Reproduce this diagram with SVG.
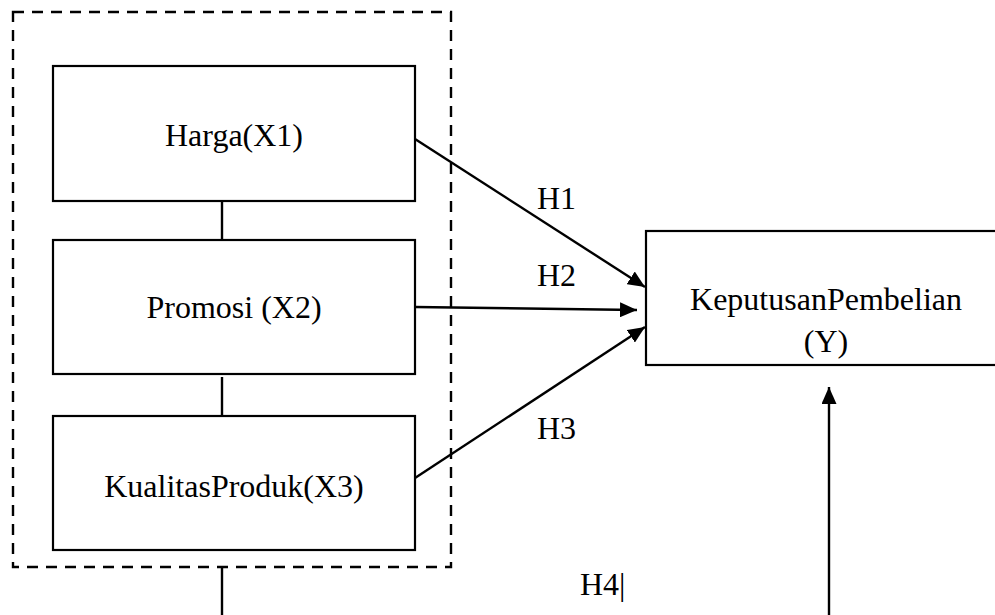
<svg xmlns="http://www.w3.org/2000/svg" width="995" height="615" viewBox="0 0 995 615">
<style>
.box{fill:#fff;stroke:#000;stroke-width:2.2}
.ln{stroke:#000;stroke-width:2.4;fill:none}
.t{font-family:"Liberation Serif","Times New Roman",serif;font-size:32px;fill:#000}
</style>
<defs>
<marker id="ah" markerUnits="userSpaceOnUse" markerWidth="17" markerHeight="15" refX="17" refY="7.5" orient="auto">
<path d="M0,0 L17,7.5 L0,15 z" fill="#000"/>
</marker>
</defs>
<rect width="995" height="615" fill="#fff"/>
<g id="group-x">
<rect x="13" y="12" width="438" height="555" fill="none" stroke="#000" stroke-width="2.4" stroke-dasharray="11,8"/>
</g>
<g id="harga">
<rect class="box" x="53" y="66" width="362" height="135"/>
<text class="t" x="234" y="146" text-anchor="middle">Harga(X1)</text>
</g>
<g id="promosi">
<rect class="box" x="53" y="240" width="362" height="134"/>
<text class="t" x="234" y="318" text-anchor="middle">Promosi (X2)</text>
</g>
<g id="kualitas">
<rect class="box" x="53" y="416" width="362" height="134"/>
<text class="t" x="234" y="497" text-anchor="middle">KualitasProduk(X3)</text>
</g>
<g id="keputusan">
<rect class="box" x="646" y="231" width="360" height="134"/>
<text class="t" x="826" y="310" text-anchor="middle">KeputusanPembelian</text>
<text class="t" x="826" y="352" text-anchor="middle">(Y)</text>
</g>
<g id="connectors">
<line class="ln" x1="222" y1="201" x2="222" y2="240"/>
<line class="ln" x1="222" y1="377" x2="222" y2="416"/>
<line class="ln" x1="222" y1="567" x2="222" y2="615"/>
<line class="ln" x1="415" y1="139" x2="645" y2="287" marker-end="url(#ah)"/>
<line class="ln" x1="415" y1="307" x2="637" y2="310" marker-end="url(#ah)"/>
<line class="ln" x1="415" y1="478" x2="645" y2="327" marker-end="url(#ah)"/>
<line class="ln" x1="829" y1="615" x2="829" y2="387" marker-end="url(#ah)"/>
</g>
<g id="labels">
<text class="t" x="537" y="209">H1</text>
<text class="t" x="537" y="286">H2</text>
<text class="t" x="537" y="439">H3</text>
<text class="t" x="580" y="595">H4|</text>
</g>
</svg>
